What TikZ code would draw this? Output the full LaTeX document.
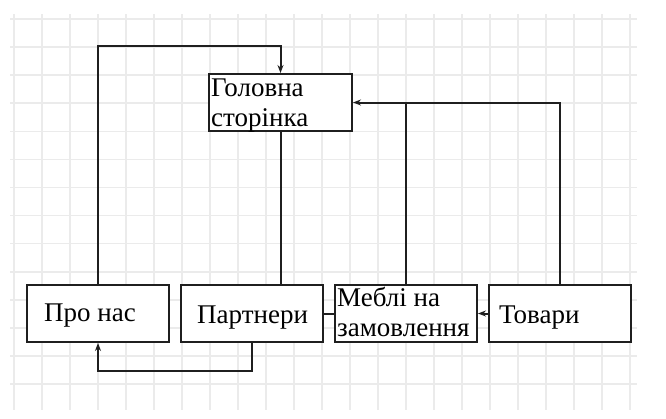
\documentclass[tikz,border=0pt]{standalone}
\usepackage{fontspec}
\setmainfont{Liberation Serif}
\usetikzlibrary{arrows.meta}
\begin{document}
\begin{tikzpicture}[x=1pt,y=-1pt,
  gridline/.style={draw=black!8,line width=1.6pt},
  box/.style={draw=black!88,line width=2pt,fill=white,minimum width=142pt,minimum height=57pt,inner sep=0pt},
  conn/.style={draw=black!88,line width=2pt},
  arr/.style={conn,-{Stealth[length=8pt,width=6pt]}},
  lbl/.style={inner sep=0pt,anchor=base west,align=left,font=\fontsize{27}{30}\selectfont}]
\useasboundingbox (0,0) rectangle (666,418);
\fill[white] (0,0) rectangle (666,418);
% grid
\foreach \i in {0,...,22} \draw[gridline] (14+28*\i,14) -- (14+28*\i,410);
\foreach \j in {0,...,13} \draw[gridline] (10,19+28.08*\j) -- (637,19+28.08*\j);
% boxes
\node[box,minimum width=143pt] (head) at (280.5,102.5) {};
\node[box] (about) at (98,313.5) {};
\node[box] (partners) at (252,313.5) {};
\node[box] (furniture) at (406,313.5) {};
\node[box] (goods) at (560,313.5) {};
% texts
\begin{scope}
\clip (head.south west) rectangle (head.north east);
\node[lbl] (thead) at (211,126) {Головна\\сторінка};
\end{scope}
\node[lbl] (tabout) at (44,321) {Про нас};
\node[lbl] (tpartners) at (197,323) {Партнери};
\node[lbl] (tfurniture) at (337,336) {Меблі на\\замовлення};
\node[lbl] (tgoods) at (499,323) {Товари};
% connectors
\coordinate (topbend) at (98,46);
\draw[arr] (about.north) -- (topbend) -| (head.north);
\draw[conn] (head.south) -- (head.south |- partners.north);
\draw[arr] (partners.south) -- ++(0,28) -| (about.south);
\draw[conn] (partners.east) -- (furniture.west);
\draw[arr] (goods.west) -- (furniture.east);
\draw[arr] (goods.north) |- (head.east);
\draw[conn] (furniture.north) -- (furniture.north |- head.east);
\end{tikzpicture}
\end{document}
